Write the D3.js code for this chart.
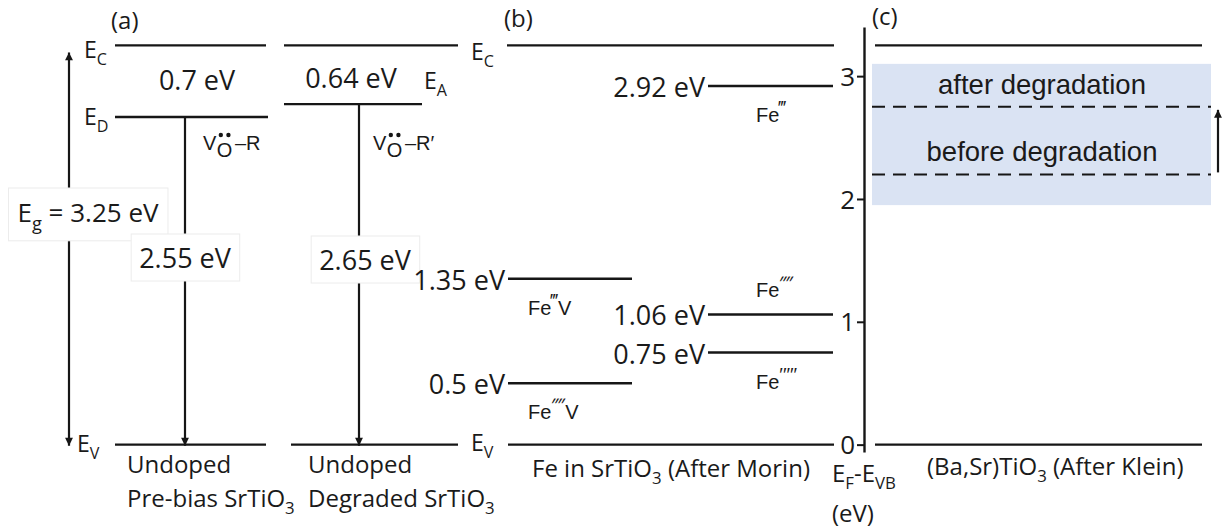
<!DOCTYPE html>
<html>
<head>
<meta charset="utf-8">
<script src="https://cdn.jsdelivr.net/npm/d3@7"></script>
<style>
  html, body { margin: 0; padding: 0; background: #fff; }
  svg { display: block; }
  text { fill: #1a1a1a; }
</style>
</head>
<body>
<script>
// ---- data ----------------------------------------------------------------
const bandGap = 3.25;                       // E_C - E_V of SrTiO3 (eV)
const axisTicks = [0, 1, 2, 3];

// (a) undoped SrTiO3: oxygen-vacancy related levels
const defectColumns = ["Pre-bias", "Degraded"];
const defectLevelNames = ["E_D", "E_A"];
const defectComplex = ["R", "R′"];
const defectDepths = [0.7, 0.64];           // below E_C (eV)
const defectHeights = [2.55, 2.65];         // above E_V (eV)

// (b) Fe in SrTiO3 (after Morin)
const feLevels  = [2.92, 1.35, 1.06, 0.75, 0.5];
const feSpecies = ["‴", "‴V", "⁗", "′′′′′", "⁗V"];
const feColumn  = ["right", "left", "right", "right", "left"];
const feLabelAt = ["below", "below", "above", "below", "below"];

// (c) (Ba,Sr)TiO3 (after Klein): Fermi level range
const kleinRange = [1.95, 3.1];
const kleinFermi = [2.2, 2.75];
const kleinNames = ["before degradation", "after degradation"];

// ---- setup ---------------------------------------------------------------
const W = 1223, H = 529;
const svg = d3.select("body").append("svg").attr("width", W).attr("height", H);

const y = d3.scaleLinear().domain([-0.06, 3.4]).range([452, 27]);
// panel (a) is drawn schematically with its own energy spacing
const yA = d3.scaleLinear().domain([0, 1]).range([y(0), y(0) - 128.5]);

const INK = "#161616";
const SANS = "'Open Sans', sans-serif";
const ARIAL = "'Liberation Sans', Arial, sans-serif";

const defs = svg.append("defs");
function marker(id, dir) {
  defs.append("marker").attr("id", id)
    .attr("viewBox", "0 0 10 10").attr("refX", dir === "end" ? 10 : 0).attr("refY", 5)
    .attr("markerWidth", 4.2).attr("markerHeight", 3.6).attr("orient", "auto")
    .attr("markerUnits", "strokeWidth")
    .append("path")
    .attr("d", dir === "end" ? "M0,0 L10,5 L0,10 Z" : "M10,0 L0,5 L10,10 Z")
    .attr("fill", INK);
}
marker("head", "end");
marker("tail", "start");

function hline(x1, x2, yy, opts = {}) {
  return svg.append("line").attr("x1", x1).attr("x2", x2).attr("y1", yy).attr("y2", yy)
    .attr("stroke", INK).attr("stroke-width", opts.w || 2.4)
    .attr("stroke-dasharray", opts.dash || null);
}

function vArrow(x, y1, y2, both) {
  const l = svg.append("line").attr("x1", x).attr("x2", x).attr("y1", y1).attr("y2", y2)
    .attr("stroke", INK).attr("stroke-width", 2.2).attr("marker-end", "url(#head)");
  if (both) l.attr("marker-start", "url(#tail)");
  return l;
}

// text with shifted parts: [[string, shift]] shift: 0 normal, 1 sub, -1 super
function richText(x, yy, parts, size, font, anchor, supScale) {
  const t = svg.append("text").attr("x", x).attr("y", yy)
    .attr("font-family", font || SANS).attr("font-size", size)
    .attr("text-anchor", anchor || "start");
  let cur = 0;
  parts.forEach(([s, sh]) => {
    const target = sh === 1 ? size * 0.3 : sh === -1 ? -size * 0.38 : 0;
    const fs = sh === 1 ? size * 0.7 : sh === -1 ? size * (supScale || 0.7) : size;
    t.append("tspan").attr("dy", target - cur).attr("font-size", fs).text(s);
    cur = target;
  });
  return t;
}

function boxed(textSel, padX, padY) {
  const b = textSel.node().getBBox();
  svg.insert("rect", () => textSel.node())
    .attr("x", b.x - padX).attr("y", b.y - padY)
    .attr("width", b.width + 2 * padX).attr("height", b.height + 2 * padY)
    .attr("fill", "#fff").attr("stroke", "#ececec").attr("stroke-width", 1);
}

// ---- panel (a) -----------------------------------------------------------
const colA = [{ x1: 115, x2: 266, xl: 268, ev1: 115, arrow: 185 },
              { x1: 284, x2: 458, xl: 422, ev1: 291, arrow: 359 }];

colA.forEach((c, i) => {
  hline(c.x1, c.x2, y(bandGap));
  hline(c.ev1, c.x2, y(0));
  hline(c.x1, c.xl, yA(defectHeights[i]));
  vArrow(c.arrow, yA(defectHeights[i]), y(0) + 1);
});

// band-gap arrow
vArrow(69, y(bandGap) + 7, y(0) + 1, true);

// level names
richText(84, 58, [["E", 0], ["C", 1]], 23);
richText(84, 125, [["E", 0], ["D", 1]], 23);
richText(77, 452, [["E", 0], ["V", 1]], 23);
richText(471, 60, [["E", 0], ["C", 1]], 23);
richText(424, 89, [["E", 0], ["A", 1]], 23);
richText(471, 451, [["E", 0], ["V", 1]], 23);

// gaps from E_C
svg.append("text").attr("x", 197).attr("y", 90).attr("text-anchor", "middle")
  .attr("font-family", SANS).attr("font-size", 27).text(defectDepths[0] + " eV");
svg.append("text").attr("x", 351).attr("y", 88).attr("text-anchor", "middle")
  .attr("font-family", SANS).attr("font-size", 27).text(defectDepths[1] + " eV");

// vacancy complex labels V_O^•• – R
function vacancyLabel(x, base, suffix) {
  const fs = 20;
  const v = svg.append("text").attr("x", x).attr("y", base)
    .attr("font-family", ARIAL).attr("font-size", fs).text("V");
  const wv = v.node().getComputedTextLength();
  const o = svg.append("text").attr("x", x + wv + 0.5).attr("y", base + 7)
    .attr("font-family", ARIAL).attr("font-size", fs).text("O");
  const wo = o.node().getComputedTextLength();
  const cx = x + wv + 0.5 + wo / 2;
  [-3.8, 3.8].forEach(dx => svg.append("circle").attr("cx", cx + dx).attr("cy", base - 15)
    .attr("r", 2.2).attr("fill", INK));
  svg.append("text").attr("x", x + wv + wo + 3).attr("y", base)
    .attr("font-family", ARIAL).attr("font-size", fs).text("–" + suffix);
}
vacancyLabel(203, 150, defectComplex[0]);
vacancyLabel(373, 150, defectComplex[1]);

// arrow values in boxes
const eg = richText(88, 222, [["E", 0], ["g", 1], [" = " + bandGap + " eV", 0]], 26, SANS, "middle");
boxed(eg, 9, 6);
const a1 = svg.append("text").attr("x", 185).attr("y", 268).attr("text-anchor", "middle")
  .attr("font-family", SANS).attr("font-size", 27).text(defectHeights[0] + " eV");
boxed(a1, 8, 5);
const a2 = svg.append("text").attr("x", 365).attr("y", 270).attr("text-anchor", "middle")
  .attr("font-family", SANS).attr("font-size", 27).text(defectHeights[1] + " eV");
boxed(a2, 8, 5);

// column captions
richText(127, 473, [["Undoped", 0]], 24);
richText(127, 507, [["Pre-bias SrTiO", 0], ["3", 1]], 24);
richText(308, 473, [["Undoped", 0]], 24);
richText(308, 507, [["Degraded SrTiO", 0], ["3", 1]], 24);

// ---- panel (b) -----------------------------------------------------------
hline(507, 834, y(bandGap));
hline(508, 834, y(0));
const colB = { left: [508, 632], right: [708, 833] };
feLevels.forEach((v, i) => {
  const [x1, x2] = colB[feColumn[i]];
  hline(x1, x2, y(v));
  svg.append("text").attr("x", x1 - 3).attr("y", y(v) + 11).attr("text-anchor", "end")
    .attr("font-family", SANS).attr("font-size", 27).text(v + " eV");
  const lx = feColumn[i] === "left" ? 528 : 756;
  const ly = feLabelAt[i] === "below" ? y(v) + 36 : y(v) - 17;
  const sp = feSpecies[i];
  const primes = sp.replace("V", "");
  const parts = [["Fe", 0], [primes, -1]];
  if (sp.endsWith("V")) parts.push(["V", 0]);
  richText(lx, ly, parts, 20, ARIAL, "start", 0.95);
});
richText(532, 477, [["Fe in SrTiO", 0], ["3", 1], [" (After Morin)", 0]], 24);

// ---- axis ----------------------------------------------------------------
const axisX = 864;
const axis = svg.append("g").attr("transform", `translate(${axisX},0)`)
  .call(d3.axisLeft(y).tickValues(axisTicks).tickFormat(d3.format("d"))
    .tickSize(7).tickSizeOuter(0).tickPadding(2));
axis.select(".domain").attr("stroke", INK).attr("stroke-width", 2.4);
axis.selectAll(".tick line").attr("stroke", INK).attr("stroke-width", 2);
axis.selectAll(".tick text").attr("font-family", SANS).attr("font-size", 26).attr("fill", INK)
  .attr("dy", "0.35em");
richText(832, 482, [["E", 0], ["F", 1], ["-E", 0], ["VB", 1]], 24);
richText(832, 522, [["(eV)", 0]], 24);

// ---- panel (c) -----------------------------------------------------------
svg.append("rect").attr("x", 872).attr("width", 1211 - 872)
  .attr("y", y(kleinRange[1])).attr("height", y(kleinRange[0]) - y(kleinRange[1]))
  .attr("fill", "#dae3f3");
hline(875, 1202, y(bandGap));
hline(875, 1202, y(0));
kleinFermi.forEach((v, i) => {
  hline(872, 1211, y(v), { dash: "13,8", w: 2 });
  svg.append("text").attr("x", 1042).attr("y", y(v) - 13).attr("text-anchor", "middle")
    .attr("font-family", ARIAL).attr("font-size", 27.5).text(kleinNames[i]);
});
vArrow(1218, y(kleinFermi[0]) - 2, y(kleinFermi[1]) + 3);
richText(927, 475, [["(Ba,Sr)TiO", 0], ["3", 1], [" (After Klein)", 0]], 24);

// ---- panel letters -------------------------------------------------------
[["(a)", 111, 29], ["(b)", 504, 27], ["(c)", 872, 25]].forEach(([s, x, yy]) =>
  svg.append("text").attr("x", x).attr("y", yy).attr("font-family", SANS)
    .attr("font-size", 24).text(s));
</script>
</body>
</html>
